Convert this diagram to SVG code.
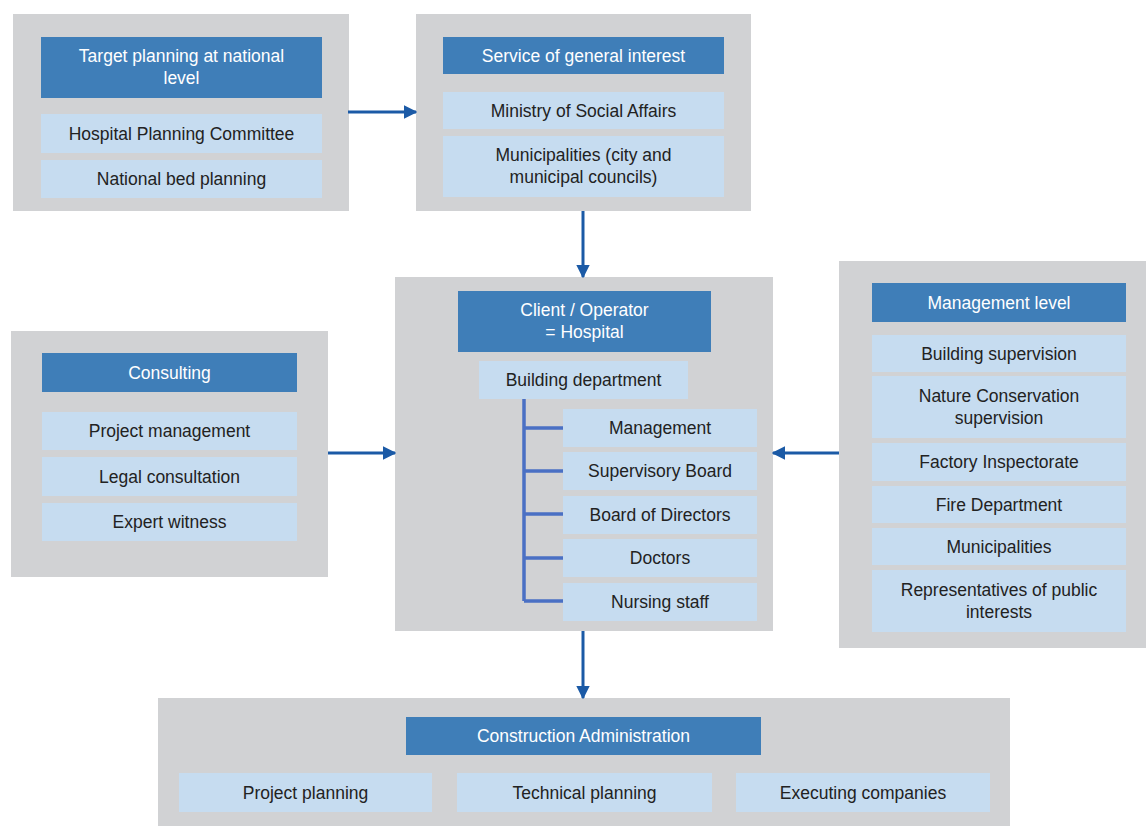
<svg xmlns="http://www.w3.org/2000/svg" width="1146" height="826" viewBox="0 0 1146 826">
<style>
.grp{fill:#D1D2D4}
.hdr{fill:#3F7EB8}
.itm{fill:#C6DCF0}
text{font-family:"Liberation Sans",Arial,sans-serif;font-size:17.5px;text-anchor:middle;dominant-baseline:central}
.ht{fill:#FFFFFF}
.it{fill:#222222}
.conn{stroke:#1B5AA6;stroke-width:3;fill:none}
.tree{stroke:#4A70C4;stroke-width:3.5;fill:none}
</style>
<defs>
<marker id="ah" viewBox="0 0 10 10" refX="9" refY="5" markerWidth="4.5" markerHeight="4.5" orient="auto" markerUnits="strokeWidth">
<path d="M0,0 L10,5 L0,10 z" fill="#1B5AA6"/>
</marker>
</defs>
<rect width="1146" height="826" fill="#FFFFFF"/>

<g id="national">
<rect class="grp" x="13" y="14" width="336" height="197"/>
<rect class="hdr" x="41" y="37" width="281" height="61"/>
<text class="ht" x="181.5" y="56">Target planning at national</text>
<text class="ht" x="181.5" y="78">level</text>
<rect class="itm" x="41" y="114" width="281" height="39"/>
<text class="it" x="181.5" y="133.5">Hospital Planning Committee</text>
<rect class="itm" x="41" y="160" width="281" height="38"/>
<text class="it" x="181.5" y="179">National bed planning</text>
</g>

<g id="service">
<rect class="grp" x="416" y="14" width="335" height="197"/>
<rect class="hdr" x="443" y="37" width="281" height="37"/>
<text class="ht" x="583.5" y="55.5">Service of general interest</text>
<rect class="itm" x="443" y="92" width="281" height="37"/>
<text class="it" x="583.5" y="110.5">Ministry of Social Affairs</text>
<rect class="itm" x="443" y="136" width="281" height="61"/>
<text class="it" x="583.5" y="155">Municipalities (city and</text>
<text class="it" x="583.5" y="177">municipal councils)</text>
</g>

<g id="client">
<rect class="grp" x="395" y="277" width="378" height="354"/>
<rect class="hdr" x="458" y="291" width="253" height="61"/>
<text class="ht" x="584.5" y="310">Client / Operator</text>
<text class="ht" x="584.5" y="332">= Hospital</text>
<rect class="itm" x="479" y="361" width="209" height="38"/>
<text class="it" x="583.5" y="380">Building department</text>
<path class="tree" d="M524,399 V601 M524,428 H563 M524,471 H563 M524,514 H563 M524,558 H563 M524,601 H563"/>
<rect class="itm" x="563" y="409" width="194" height="38"/>
<text class="it" x="660" y="428">Management</text>
<rect class="itm" x="563" y="452" width="194" height="38"/>
<text class="it" x="660" y="471">Supervisory Board</text>
<rect class="itm" x="563" y="496" width="194" height="38"/>
<text class="it" x="660" y="515">Board of Directors</text>
<rect class="itm" x="563" y="539" width="194" height="38"/>
<text class="it" x="660" y="558">Doctors</text>
<rect class="itm" x="563" y="583" width="194" height="38"/>
<text class="it" x="660" y="602">Nursing staff</text>
</g>

<g id="consulting">
<rect class="grp" x="11" y="331" width="317" height="246"/>
<rect class="hdr" x="42" y="353" width="255" height="39"/>
<text class="ht" x="169.5" y="372.5">Consulting</text>
<rect class="itm" x="42" y="412" width="255" height="38"/>
<text class="it" x="169.5" y="431">Project management</text>
<rect class="itm" x="42" y="457" width="255" height="39"/>
<text class="it" x="169.5" y="476.5">Legal consultation</text>
<rect class="itm" x="42" y="503" width="255" height="38"/>
<text class="it" x="169.5" y="522">Expert witness</text>
</g>

<g id="management">
<rect class="grp" x="839" y="261" width="307" height="387"/>
<rect class="hdr" x="872" y="283" width="254" height="39"/>
<text class="ht" x="999" y="302.5">Management level</text>
<rect class="itm" x="872" y="335" width="254" height="37"/>
<text class="it" x="999" y="353.5">Building supervision</text>
<rect class="itm" x="872" y="376" width="254" height="62"/>
<text class="it" x="999" y="396">Nature Conservation</text>
<text class="it" x="999" y="418">supervision</text>
<rect class="itm" x="872" y="443" width="254" height="38"/>
<text class="it" x="999" y="462">Factory Inspectorate</text>
<rect class="itm" x="872" y="486" width="254" height="37"/>
<text class="it" x="999" y="504.5">Fire Department</text>
<rect class="itm" x="872" y="528" width="254" height="37"/>
<text class="it" x="999" y="546.5">Municipalities</text>
<rect class="itm" x="872" y="570" width="254" height="62"/>
<text class="it" x="999" y="590">Representatives of public</text>
<text class="it" x="999" y="612">interests</text>
</g>

<g id="construction">
<rect class="grp" x="158" y="698" width="852" height="128"/>
<rect class="hdr" x="406" y="717" width="355" height="38"/>
<text class="ht" x="583.5" y="736">Construction Administration</text>
<rect class="itm" x="179" y="773" width="253" height="39"/>
<text class="it" x="305.5" y="792.5">Project planning</text>
<rect class="itm" x="457" y="773" width="255" height="39"/>
<text class="it" x="584.5" y="792.5">Technical planning</text>
<rect class="itm" x="736" y="773" width="254" height="39"/>
<text class="it" x="863" y="792.5">Executing companies</text>
</g>

<g id="connectors">
<line class="conn" x1="348" y1="112" x2="416" y2="112" marker-end="url(#ah)"/>
<line class="conn" x1="583" y1="211" x2="583" y2="277" marker-end="url(#ah)"/>
<line class="conn" x1="328" y1="453" x2="395" y2="453" marker-end="url(#ah)"/>
<line class="conn" x1="839" y1="453" x2="773" y2="453" marker-end="url(#ah)"/>
<line class="conn" x1="583" y1="631" x2="583" y2="698" marker-end="url(#ah)"/>
</g>
</svg>
